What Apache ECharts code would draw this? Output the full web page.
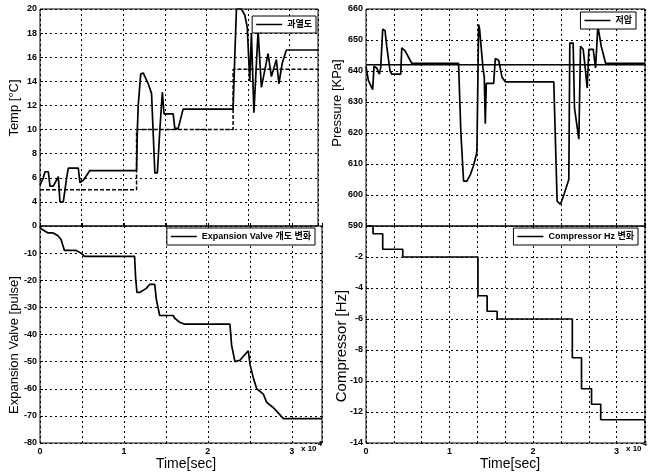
<!DOCTYPE html>
<html>
<head>
<meta charset="utf-8">
<script src="https://cdn.jsdelivr.net/npm/echarts@6/dist/echarts.min.js"></script>
<style>
  html, body { margin: 0; padding: 0; background: #fff; }
  #chart { width: 653px; height: 472px; }
</style>
</head>
<body>
<div id="chart"></div>
<script>
// ---- data (time in seconds) ----
const tempTime = [0, 400, 600, 1000, 1200, 1600, 2200, 2400, 2800, 3000, 3200, 3400, 4600, 4800, 5200, 6000,
  11600, 11700, 11800, 12100, 12400, 13000, 13400, 13600, 13800, 14100, 14400, 14700, 14900, 16000, 16200,
  16600, 17200, 23200, 23400, 23600, 24200, 24600, 24900, 25200, 25400, 25700, 26200, 26600, 27400, 27800,
  28400, 28700, 29100, 29600, 33400];
const tempValue = [5.4, 6.0, 6.5, 6.5, 5.3, 5.3, 6.1, 4.0, 4.0, 5.0, 6.0, 6.8, 6.8, 5.6, 5.8, 6.6,
  6.6, 10.0, 12.0, 14.6, 14.7, 13.8, 13.0, 12.9, 6.4, 6.4, 10.0, 13.1, 11.3, 11.3, 10.1,
  10.1, 11.7, 11.7, 16.0, 20.0, 20.0, 19.5, 18.5, 14.0, 18.0, 11.4, 18.2, 13.5, 16.3, 14.4,
  15.8, 13.8, 15.5, 16.6, 16.6];
const tempSetTime = [0, 11600, 11600, 23200, 23200, 33400];
const tempSetValue = [5, 5, 10, 10, 15, 15];

const pressTime = [0, 280, 800, 960, 1280, 1600, 1760, 1880, 2000, 2280, 2480, 2880, 3080, 4160, 4280, 4680,
  5480, 11080, 11360, 11680, 12080, 12480, 12880, 13200, 13280, 13480, 13600, 14000, 14160, 14280, 14400,
  15280, 15480, 15880, 16280, 16680, 22480, 22880, 23280, 23680, 24280, 24400, 24800, 24960, 25480, 25680,
  26000, 26280, 26480, 26680, 27200, 27480, 27760, 28160, 28680, 33400];
const pressValue = [641.5, 637, 634, 641.5, 641, 639, 641, 641, 653.5, 653, 648, 640, 639, 639, 647.5, 646.5,
  642.5, 642.5, 620, 604.5, 604.5, 606.5, 609.5, 613, 614, 655, 653.5, 641, 638, 623, 636,
  636, 644, 643.5, 638, 636.5, 636.5, 598, 597, 600, 605, 649, 649, 628, 618, 648,
  647, 640, 634.5, 647, 647, 641, 654.5, 648, 642.5, 642.5];
const pressRef = 642;

const valveTime = [0, 120, 920, 1510, 2110, 2510, 2710, 2910, 4300, 4900, 5300, 11270, 11390, 11550, 11870,
  12670, 13070, 13670, 13860, 14260, 15860, 16060, 16650, 17250, 22630, 22830, 23230, 23820, 24820, 25020,
  25420, 25820, 26610, 27010, 27810, 28410, 29000, 33600];
const valveValue = [0, -1, -2.5, -2.5, -3.5, -5, -7, -9, -9, -10, -11.2, -11.2, -19, -24.5, -24.5,
  -23, -21.5, -21.5, -27, -33, -33, -34, -35.5, -36.2, -36.2, -44, -50, -49.5, -46, -51,
  -56, -60, -62, -65, -67, -69, -71, -71];

const hzTime = [0, 840, 2000, 4400, 13400, 14500, 15700, 24700, 25800, 27000, 28100, 33400];
const hzValue = [0, -0.5, -1.5, -2, -4.5, -5.5, -6, -8.5, -10.5, -11.5, -12.5, -12.5];

// axis ranges: [min, max, step]
const tempAxis = [2, 20, 2];
const pressAxis = [590, 660, 10];
const valveAxis = [-80, 0, 10];
const hzAxis = [-14, 0, 2];
const timeTicksLeft = [0, 33600, 5000];
const timeTicksRight = [0, 33400, 10000 / 3];

const FONT = '"Liberation Sans", Arial, "Noto Sans CJK KR", sans-serif';
const pairs = (xs, ys) => xs.map((x, i) => [x, ys[i]]);

const chart = echarts.init(document.getElementById('chart'));

const gridLine = { show: true, lineStyle: { color: '#000', width: 1, type: [2, 3] } };
const tickLabel = { fontSize: 9, fontWeight: 'bold', color: '#000', fontFamily: FONT };
const wholeTen = v => {
  const k = v / 10000;
  return Math.abs(k - Math.round(k)) < 1e-6 ? String(Math.round(k)) : '';
};

const xAxis = (gridIndex, range, labels) => ({
  type: 'value', gridIndex,
  min: range[0], max: range[1], interval: range[2],
  axisLine: { show: false },
  axisTick: { show: true, inside: true, length: 3, lineStyle: { color: '#000' } },
  splitLine: gridLine,
  axisLabel: labels ? { ...tickLabel, margin: 4, formatter: wholeTen, showMaxLabel: true } : { show: false },
});

const yAxis = (gridIndex, range, hideMin, hideMax) => ({
  type: 'value', gridIndex,
  min: range[0], max: range[1], interval: range[2],
  axisLine: { show: false },
  axisTick: { show: true, inside: true, length: 3, lineStyle: { color: '#000' } },
  splitLine: gridLine,
  axisLabel: { ...tickLabel, margin: 3, showMinLabel: !hideMin, showMaxLabel: !hideMax },
});

const lineSeries = (name, idx, data, extra) => ({
  name, type: 'line', xAxisIndex: idx, yAxisIndex: idx,
  data, symbol: 'none', silent: true,
  lineStyle: { color: '#000', width: 1.7 },
  itemStyle: { color: '#000' },
  ...extra,
});

const legend = (name, pos) => ({
  data: [name], ...pos,
  selectedMode: false,
  orient: 'horizontal',
  icon: 'rect',
  itemWidth: 26, itemHeight: 1.5,
  itemStyle: { color: '#000' },
  padding: [4, 4, 4, 4],
  backgroundColor: '#fff',
  borderColor: '#000', borderWidth: 1, borderRadius: 0,
  textStyle: { fontSize: 9, fontWeight: 'bold', color: '#000', fontFamily: FONT },
});

// axis titles placed as free text
const title = (text, x, y, size, vertical) => ({
  type: 'text', x, y, rotation: vertical ? Math.PI / 2 : 0, z: 100,
  style: { text, font: size + 'px ' + FONT, fill: '#000', align: 'center', verticalAlign: 'middle' },
});

chart.setOption({
  animation: false,
  backgroundColor: '#fff',
  grid: [
    { left: 40, top: 9, width: 278, height: 217 },
    { left: 366, top: 9, width: 279, height: 217 },
    { left: 40, top: 226, width: 282, height: 217 },
    { left: 366, top: 226, width: 279, height: 217 },
  ].map(g => ({ ...g, show: true, borderColor: '#000', borderWidth: 1, backgroundColor: 'transparent' })),
  xAxis: [
    xAxis(0, [timeTicksLeft[0], 33400, timeTicksLeft[2]], false),
    xAxis(1, timeTicksRight, false),
    xAxis(2, timeTicksLeft, true),
    xAxis(3, timeTicksRight, true),
  ],
  yAxis: [
    yAxis(0, tempAxis, true, false),
    yAxis(1, pressAxis, false, false),
    yAxis(2, valveAxis, false, false),
    yAxis(3, hzAxis, false, true),
  ],
  legend: [
    legend('과열도', { right: 337, top: 16 }),
    legend('저압', { right: 17, top: 12 }),
    legend('Expansion Valve 개도 변화', { right: 338, top: 228 }),
    legend('Compressor Hz 변화', { right: 15, top: 228 }),
  ],
  series: [
    lineSeries('과열도', 0, pairs(tempTime, tempValue)),
    lineSeries('설정', 0, pairs(tempSetTime, tempSetValue), { lineStyle: { color: '#000', width: 1.5, type: [4, 2] } }),
    lineSeries('저압', 1, pairs(pressTime, pressValue)),
    lineSeries('기준', 1, [[0, pressRef], [timeTicksRight[1], pressRef]], { lineStyle: { color: '#000', width: 1.4 } }),
    lineSeries('Expansion Valve 개도 변화', 2, pairs(valveTime, valveValue)),
    lineSeries('Compressor Hz 변화', 3, pairs(hzTime, hzValue), { step: 'end' }),
  ],
  graphic: [
    title('Temp [°C]', 14, 108, 13, true),
    title('Pressure [KPa]', 337, 103, 13, true),
    title('Expansion Valve [pulse]', 14, 345, 13, true),
    title('Compressor [Hz]', 342, 346, 15, true),
    title('Time[sec]', 186, 464, 14, false),
    title('Time[sec]', 510, 464, 14, false),
    { type: 'text', left: 301, top: 445, z: 100, style: { text: 'x 10', font: 'bold 8px ' + FONT, fill: '#000' } },
    { type: 'text', left: 318, top: 441, z: 100, style: { text: '4', font: 'bold 7px ' + FONT, fill: '#000' } },
    { type: 'text', left: 626, top: 445, z: 100, style: { text: 'x 10', font: 'bold 8px ' + FONT, fill: '#000' } },
    { type: 'text', left: 643, top: 441, z: 100, style: { text: '4', font: 'bold 7px ' + FONT, fill: '#000' } },
  ],
});
</script>
</body>
</html>
